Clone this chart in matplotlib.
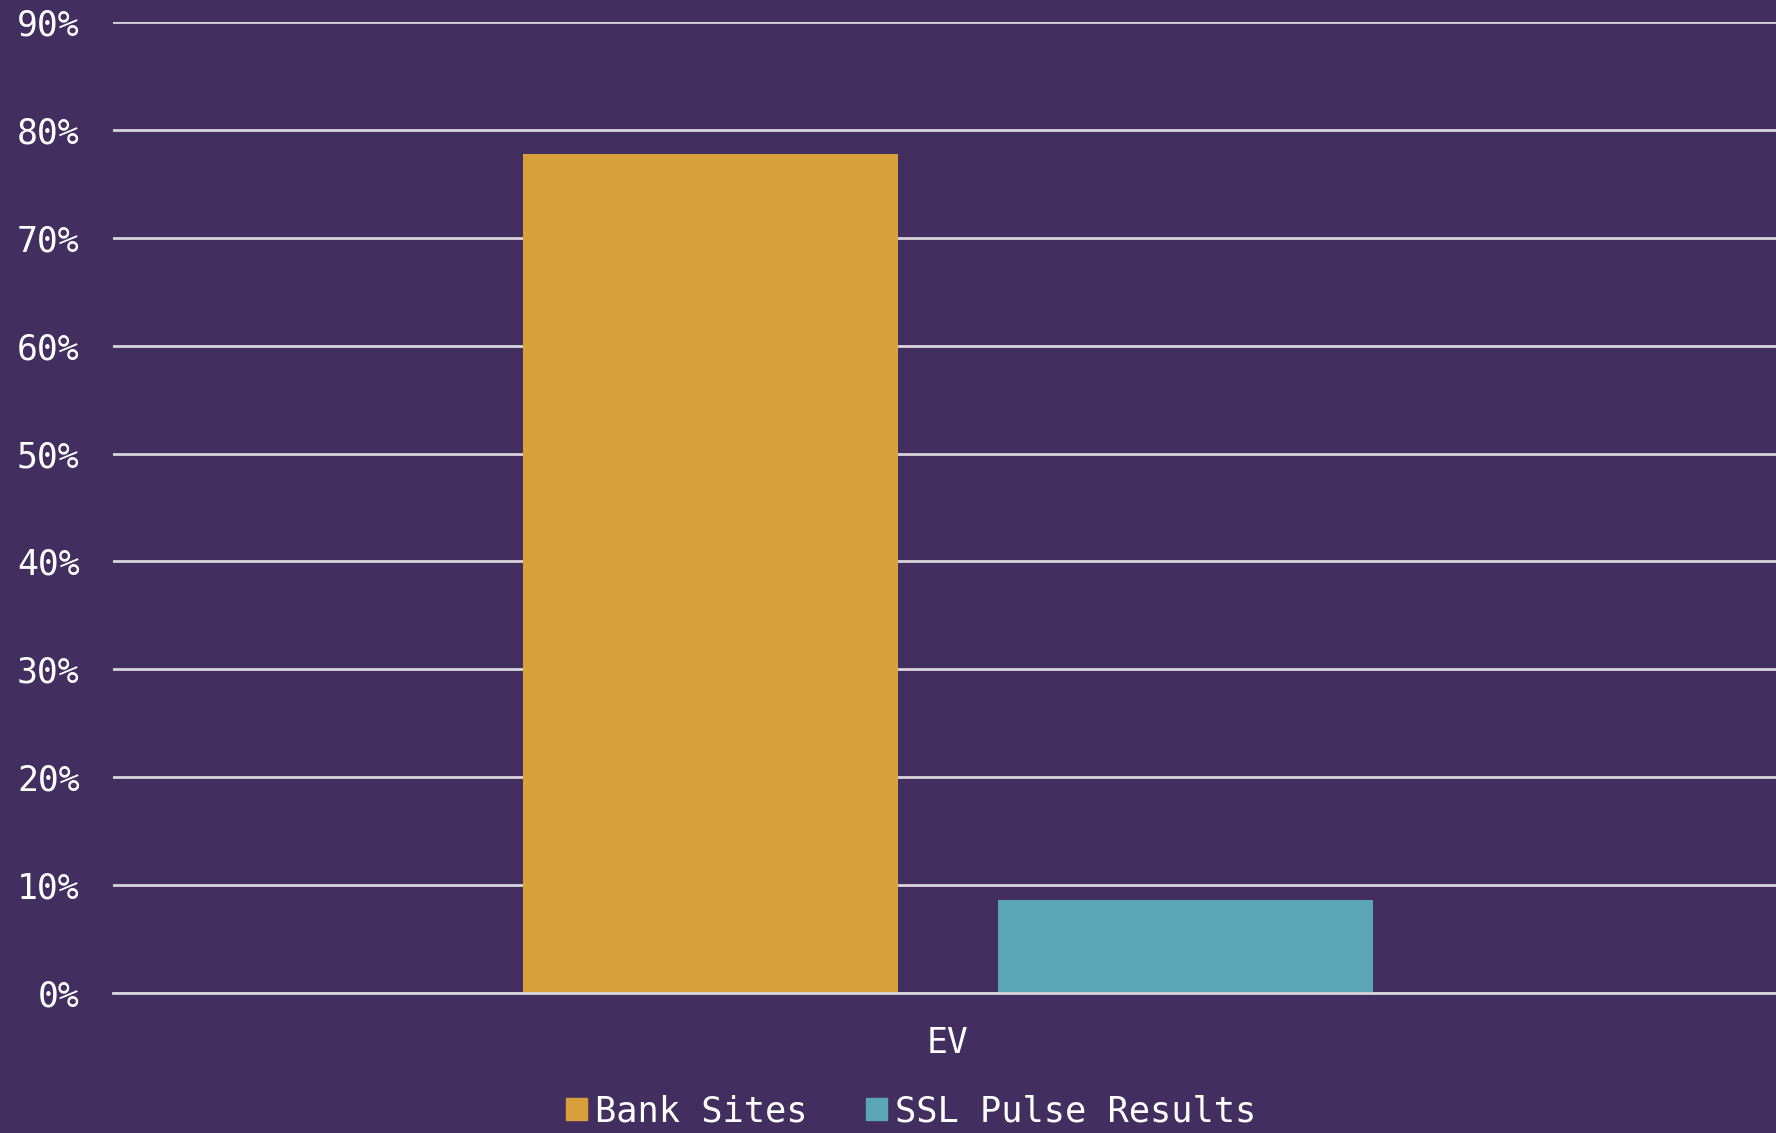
import matplotlib
matplotlib.use("Agg")
import matplotlib.pyplot as plt
from matplotlib.ticker import FuncFormatter
from matplotlib.patches import Patch

# datos
categorias = ["EV"]
series = ["Bank Sites", "SSL Pulse Results"]
valores_bank = [77.8]
valores_ssl = [8.6]
colores = ["#d8a03a", "#5aa6b4"]

fondo = "#432e60"
plt.rcParams['font.family'] = ['DejaVu Sans Mono', 'DejaVu Sans']

fig = plt.figure(figsize=(17.76, 11.33), dpi=100, facecolor=fondo)
ax = fig.add_axes([0.0636, 0.1236, 0.9364, 0.857])
ax.set_facecolor(fondo)

ancho = 0.2255
hueco = 0.06
desp = 0.002
x = range(len(categorias))
ax.bar([i - (ancho + hueco) / 2 + desp for i in x], valores_bank, width=ancho,
       color=colores[0], zorder=2, label=series[0])
ax.bar([i + (ancho + hueco) / 2 + desp for i in x], valores_ssl, width=ancho,
       color=colores[1], zorder=2, label=series[1])

ax.set_xlim(-0.5, 0.5)
ax.set_ylim(0, 90)
ax.set_yticks(range(0, 91, 10))
ax.yaxis.set_major_formatter(FuncFormatter(lambda v, p: f"{int(v)}%"))
ax.set_xticks([i + desp for i in x])
ax.set_xticklabels(categorias)

ax.grid(axis='y', color='#d8d4de', linewidth=2, zorder=1)
ax.set_axisbelow(True)
for s in ax.spines.values():
    s.set_visible(False)
ax.tick_params(axis='both', length=0, colors='white', labelsize=25)
ax.tick_params(axis='y', pad=24)
ax.tick_params(axis='x', pad=24)

# linea del 0% por encima de las barras
ax.axhline(0, color='#d8d4de', linewidth=2, zorder=3, clip_on=False)

handles = [Patch(color=c) for c in colores]
leg = fig.legend(handles, series, loc='lower center', bbox_to_anchor=(0.513, -0.024),
                 ncol=2, frameon=False, fontsize=25.5, labelcolor='white',
                 handlelength=0.6, handleheight=0.6, handletextpad=0.22,
                 columnspacing=1.65)

plt.savefig("out.png", dpi=100, facecolor=fondo)
plt.close()
